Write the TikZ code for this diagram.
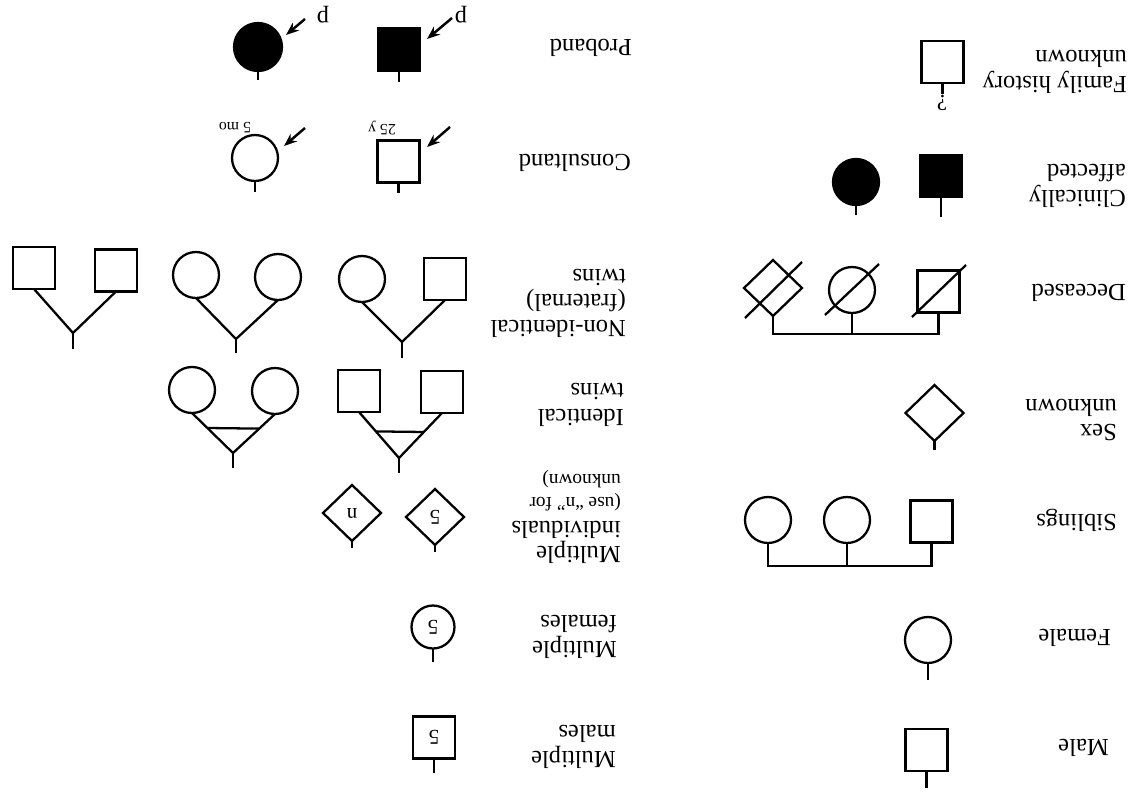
\documentclass[tikz,border=0pt]{standalone}
\usepackage{fontspec}
\setmainfont{Liberation Serif}
\usetikzlibrary{shapes.geometric,arrows.meta,calc}
\begin{document}
\begin{tikzpicture}[x=0.02cm,y=-0.02cm,line width=1.3pt,
  sq/.style={draw,rectangle,minimum size=0.84cm,inner sep=0,outer sep=0},
  ci/.style={draw,circle,minimum size=0.92cm,inner sep=0,outer sep=0},
  dm/.style={draw,diamond,minimum width=1.16cm,minimum height=1.12cm,inner sep=0,outer sep=0},
  filled/.style={fill=black},
  lbl/.style={rotate=180,anchor=west,align=left,inner sep=0,font=\fontsize{14}{14.5}\selectfont},
  small/.style={rotate=180,inner sep=0,font=\fontsize{11}{12}\selectfont},
  tiny/.style={rotate=180,inner sep=0,font=\fontsize{9}{10}\selectfont},
  arr/.style={-{Stealth[length=0.26cm,width=0.2cm]},line width=1.4pt}]
\useasboundingbox (0,0) rectangle (1140,798);

% ---------- column of basic symbols ----------
% Family history unknown
\node[sq] (fh) at (942.5,62) {};
\draw (fh.south) -- ++(0,11);
\node[small,font=\fontsize{13}{13}\selectfont] (fhq) at (942,103) {?};
\node[lbl] (fhl) at (1128,72) {Family history\\unknown};

% Clinically affected
\node[sq,filled] (casq) at (941,176) {};
\draw (casq.south) -- ++(0,20);
\node[ci,filled] (caci) at (856,182) {};
\draw (caci.south) -- ++(0,10);
\node[lbl] (cal) at (1127,186) {Clinically\\affected};

% Deceased
\node[sq] (dsq) at (938.5,291.5) {};
\node[ci] (dci) at (852,290) {};
\node[dm] (ddm) at (773,288) {};
\draw ($(dsq)+(-26.5,25.5)$) -- ($(dsq)+(27.5,-26.5)$);
\draw ($(dci)+(-27,25)$) -- ($(dci)+(27,-26)$);
\draw ($(ddm)+(-28,30)$) -- ($(ddm)+(29,-26)$);
\draw (dsq.south) -- (dsq.south |- 0,334) -- (ddm.south |- 0,334) -- (ddm.south);
\draw (dci.south) -- (dci.south |- 0,334);
\node[lbl] (dl) at (1127,293) {Deceased};

% Sex unknown
\node[dm] (su) at (934.5,413) {};
\draw (su.south) -- ++(0,9);
\node[lbl] (sul) at (1118,420) {Sex\\unknown};

% Siblings
\node[sq] (s1) at (931.5,521.5) {};
\node[ci] (s2) at (847,520) {};
\node[ci] (s3) at (768,520) {};
\draw (s1.south) -- (s1.south |- 0,566) -- (s3.south |- 0,566) -- (s3.south);
\draw (s2.south) -- (s2.south |- 0,566);
\node[lbl] (sl) at (1118,520) {Siblings};

% Female
\node[ci] (fe) at (928,640) {};
\draw (fe.south) -- ++(0,17);
\node[lbl] (fel) at (1112,638) {Female};

% Male
\node[sq] (ma) at (926.5,750) {};
\draw (ma.south) -- ++(0,17);
\node[lbl] (mal) at (1110,748) {Male};

% ---------- column of special symbols ----------
% Proband
\node[sq,filled] (pbsq) at (399,49.5) {};
\draw (pbsq.south) -- ++(0,12);
\node[ci,filled,minimum size=0.96cm] (pbci) at (258,47) {};
\draw (pbci.south) -- ++(0,9);
\coordinate (pat1) at (452,18);
\coordinate (pah1) at (427,39);
\coordinate (pat2) at (305,19);
\coordinate (pah2) at (286,35);
\draw[arr] (pat1) -- (pah1);
\draw[arr] (pat2) -- (pah2);
\node[small,font=\fontsize{14}{14}\selectfont] (pp1) at (461,15) {p};
\node[small,font=\fontsize{14}{14}\selectfont] (pp2) at (323,15) {p};
\node[lbl] (pbl) at (633,48) {Proband};

% Consultand
\node[sq] (cosq) at (398.5,161.5) {};
\draw (cosq.south) -- ++(0,11);
\node[ci] (coci) at (255,158) {};
\draw (coci.south) -- ++(0,11);
\coordinate (cat1) at (450,127);
\coordinate (cah1) at (427,147);
\coordinate (cat2) at (305,128);
\coordinate (cah2) at (284,146);
\draw[arr] (cat1) -- (cah1);
\draw[arr] (cat2) -- (cah2);
\node[tiny] (co25) at (382,128) {25 y};
\node[tiny] (co5) at (235,128) {5 mo};
\node[lbl] (col) at (632,163) {Consultand};

% Non-identical twins
\node[sq] (na1) at (445,279) {};
\node[ci] (na2) at (362,279) {};
\coordinate (nav) at (402,342);
\draw (na1.south) -- (nav) -- (na2.south);
\draw (nav) -- ++(0,16);
\node[ci] (nb1) at (278,277) {};
\node[ci] (nb2) at (196,275) {};
\coordinate (nbv) at (236,339);
\draw (nb1.south) -- (nbv) -- (nb2.south);
\draw (nbv) -- ++(0,14);
\node[sq] (nc1) at (116,270.5) {};
\node[sq] (nc2) at (34,268) {};
\coordinate (ncv) at (73,333);
\draw (nc1.south) -- (ncv) -- (nc2.south);
\draw (ncv) -- ++(0,16);
\node[lbl] (nl) at (627,303) {Non-identical\\(fraternal)\\twins};

% Identical twins
\node[sq] (ia1) at (442,392) {};
\node[sq] (ia2) at (359,391) {};
\coordinate (iav) at (399,458);
\draw (ia1.south) -- (iav) -- (ia2.south);
\draw ($(iav)!0.578!(ia1.south)$) -- ($(iav)!0.578!(ia2.south)$);
\draw (iav) -- ++(0,15);
\node[ci] (ib1) at (275,391) {};
\node[ci] (ib2) at (192,390) {};
\coordinate (ibv) at (233,453);
\draw (ib1.south) -- (ibv) -- (ib2.south);
\draw ($(ibv)!0.625!(ib1.south)$) -- ($(ibv)!0.625!(ib2.south)$);
\draw (ibv) -- ++(0,15);
\node[lbl] (il) at (625,405) {Identical\\twins};

% Multiple individuals
\node[dm] (mi1) at (435,517) {};
\node[small,font=\fontsize{12}{12}\selectfont] at (mi1) {5};
\draw (mi1.south) -- ++(0,7);
\node[dm] (mi2) at (352,513) {};
\node[small,font=\fontsize{12}{12}\selectfont] at (mi2) {n};
\draw (mi2.south) -- ++(0,7);
\node[lbl] (mil) at (622,517) {Multiple\\individuals\\[-1pt]{\fontsize{11}{12}\selectfont (use ``n'' for}\\[-1pt]{\fontsize{11}{12}\selectfont unknown)}};

% Multiple females
\node[ci,minimum size=0.86cm] (mf) at (433,627) {};
\node[small,font=\fontsize{12}{12}\selectfont] at (mf) {5};
\draw (mf.south) -- ++(0,13);
\node[lbl] (mfl) at (618,637) {Multiple\\females};

% Multiple males
\node[sq] (mm) at (434,737.5) {};
\node[small,font=\fontsize{12}{12}\selectfont] at (mm) {5};
\draw (mm.south) -- ++(0,14);
\node[lbl] (mml) at (617,747) {Multiple\\males};
\end{tikzpicture}
\end{document}
